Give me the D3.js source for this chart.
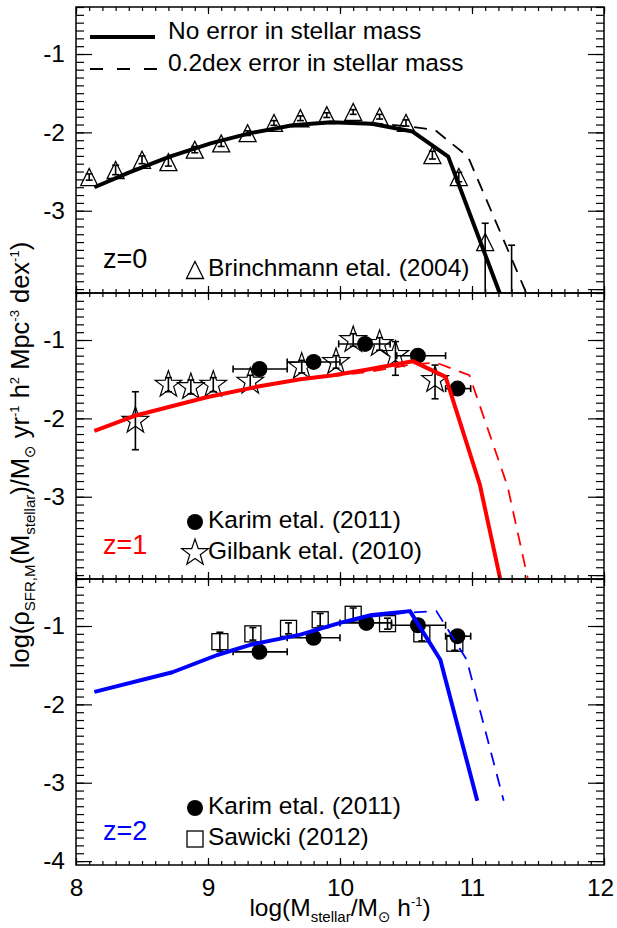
<!DOCTYPE html>
<html>
<head>
<meta charset="utf-8">
<script src="https://cdn.jsdelivr.net/npm/d3@7"></script>
<style>
  body { margin: 0; background: #fff; }
  svg { display: block; font-family: "Liberation Sans", Arial, sans-serif; }
</style>
</head>
<body>
<svg id="chart" width="617" height="928"></svg>
<script>
// Axis ticks
var xTicks = [8, 9, 10, 11, 12];
var yTicksUpper = [-1, -2, -3];
var yTicksLower = [-1, -2, -3, -4];

// z=0 model, no error / 0.2dex error in stellar mass
var m0X = [8.14, 8.39, 8.71, 9.02, 9.32, 9.64, 9.93, 10.24, 10.55, 10.82, 11.40];
var m0Y = [-2.70, -2.52, -2.31, -2.14, -2.01, -1.91, -1.87, -1.89, -1.99, -2.31, -4.90];
var d0X = [8.14, 8.39, 8.71, 9.02, 9.32, 9.64, 9.93, 10.24, 10.55, 10.72, 10.97, 11.50];
var d0Y = [-2.70, -2.52, -2.31, -2.14, -2.01, -1.91, -1.87, -1.88, -1.93, -1.97, -2.31, -4.40];

// Brinchmann etal. (2004)
var brX = [8.1, 8.3, 8.5, 8.7, 8.9, 9.1, 9.3, 9.5, 9.7, 9.9, 10.1, 10.3, 10.5, 10.7, 10.9, 11.1, 11.3];
var brY = [-2.57, -2.48, -2.35, -2.38, -2.22, -2.14, -2.01, -1.88, -1.82, -1.78, -1.74, -1.80, -1.88, -2.29, -2.57, -3.40, -4.25];
var brHi = [0.04, 0.06, 0.05, 0.05, 0.04, 0.04, 0.03, 0.03, 0.03, 0.03, 0.03, 0.03, 0.04, 0.05, 0.06, 0.24, 0.81];
var brLo = [0.04, 0.06, 0.05, 0.05, 0.04, 0.04, 0.03, 0.03, 0.03, 0.03, 0.03, 0.03, 0.04, 0.05, 0.06, 0.70, 0.90];

// z=1 model
var m1X = [8.14, 8.46, 8.99, 9.39, 9.70, 9.95, 10.20, 10.55, 10.80, 11.06, 11.30];
var m1Y = [-2.16, -1.96, -1.73, -1.59, -1.50, -1.45, -1.38, -1.27, -1.47, -2.85, -4.72];
var d1X = [8.14, 8.46, 8.99, 9.39, 9.70, 9.95, 10.20, 10.55, 10.73, 10.98, 11.27, 11.50];
var d1Y = [-2.16, -1.96, -1.73, -1.59, -1.50, -1.46, -1.41, -1.31, -1.29, -1.45, -2.87, -4.64];

// Karim etal. (2011), z=1
var k1X = [9.39, 9.80, 10.19, 10.59, 10.89];
var k1Y = [-1.37, -1.28, -1.05, -1.20, -1.62];
var k1Min = [9.19, 9.60, 9.99, 10.43, 10.80];
var k1Max = [9.60, 10.00, 10.38, 10.80, 10.99];

// Gilbank etal. (2010)
var gbX = [8.45, 8.70, 8.87, 9.04, 9.32, 9.71, 9.97, 10.10, 10.30, 10.42, 10.72];
var gbY = [-2.03, -1.57, -1.60, -1.57, -1.53, -1.34, -1.28, -1.00, -1.05, -1.19, -1.51];
var gbHi = [0.37, 0.09, 0.09, 0.09, 0.08, 0.08, 0.08, 0.08, 0.08, 0.17, 0.19];
var gbLo = [0.37, 0.09, 0.09, 0.09, 0.08, 0.08, 0.08, 0.08, 0.08, 0.26, 0.24];

// z=2 model
var m2X = [8.14, 8.73, 9.07, 9.32, 9.70, 10.00, 10.24, 10.53, 10.76, 11.04];
var m2Y = [-1.84, -1.59, -1.37, -1.24, -1.11, -0.96, -0.86, -0.81, -1.43, -3.23];
var d2X = [8.14, 8.73, 9.07, 9.32, 9.70, 10.00, 10.24, 10.50, 10.73, 10.96, 11.24];
var d2Y = [-1.84, -1.59, -1.37, -1.24, -1.11, -0.97, -0.88, -0.83, -0.81, -1.43, -3.23];

// Karim etal. (2011), z=2
var k2X = [9.39, 9.80, 10.20, 10.59, 10.89];
var k2Y = [-1.33, -1.15, -0.96, -0.99, -1.13];
var k2Min = [9.19, 9.60, 10.00, 10.39, 10.80];
var k2Max = [9.60, 10.00, 10.39, 10.80, 10.99];

// Sawicki (2012)
var swX = [9.09, 9.34, 9.61, 9.85, 10.10, 10.36, 10.62, 10.87];
var swY = [-1.20, -1.10, -1.03, -0.92, -0.85, -0.97, -1.10, -1.22];
var swErr = [0.12, 0.08, 0.07, 0.08, 0.08, 0.07, 0.09, 0.09];

var svg = d3.select('#chart');
var left = 76, right = 604, panelH = 286;
var tops = [7, 293, 579];
var font = 24.5;

var x = d3.scaleLinear().domain([8, 12]).range([left, right]);
var plain = function(d) { return String(d); };

// minor tick values
var xMinor = d3.range(80, 121).map(function(v){ return v / 10; });
var yMinor = d3.range(-40, -3).map(function(v){ return v / 10; });

function starPath(cx, cy, R, r) {
  var pts = [];
  for (var i = 0; i < 10; i++) {
    var a = -Math.PI / 2 + i * Math.PI / 5;
    var rr = i % 2 === 0 ? R : r;
    pts.push([cx + rr * Math.cos(a), cy + rr * Math.sin(a)]);
  }
  return 'M' + pts.join('L') + 'Z';
}

function triPath(cx, cy, s) {
  return 'M' + (cx - s) + ',' + (cy + s) + 'L' + cx + ',' + (cy - s) + 'L' + (cx + s) + ',' + (cy + s) + 'Z';
}

function drawSymbol(g, type, cx, cy) {
  if (type === 'tri') {
    g.append('path').attr('d', triPath(cx, cy, 8.5))
      .attr('fill', 'none').attr('stroke', '#000').attr('stroke-width', 1.3);
  } else if (type === 'star') {
    g.append('path').attr('d', starPath(cx, cy, 14, 5.5))
      .attr('fill', 'none').attr('stroke', '#000').attr('stroke-width', 1.2);
  } else if (type === 'circle') {
    g.append('circle').attr('cx', cx).attr('cy', cy).attr('r', 8).attr('fill', '#000');
  } else if (type === 'square') {
    g.append('rect').attr('x', cx - 8).attr('y', cy - 8).attr('width', 16).attr('height', 16)
      .attr('fill', 'none').attr('stroke', '#000').attr('stroke-width', 1.3);
  }
}

function vErr(g, y, xs, ys, lo, hi) {
  xs.forEach(function(v, i) {
    var cx = x(v), y0 = y(ys[i] - lo[i]), y1 = y(ys[i] + hi[i]);
    g.append('line').attr('x1', cx).attr('x2', cx).attr('y1', y0).attr('y2', y1);
    g.append('line').attr('x1', cx - 3.5).attr('x2', cx + 3.5).attr('y1', y0).attr('y2', y0);
    g.append('line').attr('x1', cx - 3.5).attr('x2', cx + 3.5).attr('y1', y1).attr('y2', y1);
  });
}

function hErr(g, y, xs, ys, mn, mx) {
  xs.forEach(function(v, i) {
    var cy = y(ys[i]), x0 = x(mn[i]), x1 = x(mx[i]);
    g.append('line').attr('x1', x0).attr('x2', x1).attr('y1', cy).attr('y2', cy);
    g.append('line').attr('x1', x0).attr('x2', x0).attr('y1', cy - 3.5).attr('y2', cy + 3.5);
    g.append('line').attr('x1', x1).attr('x2', x1).attr('y1', cy - 3.5).attr('y2', cy + 3.5);
  });
}

var panels = [
  { label: 'z=0', color: '#000', solid: [m0X, m0Y], dashed: [d0X, d0Y], yTicks: yTicksUpper,
    sets: [{ type: 'tri', x: brX, y: brY, lo: brLo, hi: brHi }],
    legend: [{ type: 'tri', text: 'Brinchmann etal. (2004)' }] },
  { label: 'z=1', color: '#ff0000', solid: [m1X, m1Y], dashed: [d1X, d1Y], yTicks: yTicksUpper,
    sets: [{ type: 'star', x: gbX, y: gbY, lo: gbLo, hi: gbHi },
           { type: 'circle', x: k1X, y: k1Y, min: k1Min, max: k1Max }],
    legend: [{ type: 'circle', text: 'Karim etal. (2011)' }, { type: 'star', text: 'Gilbank etal. (2010)' }] },
  { label: 'z=2', color: '#0000ff', solid: [m2X, m2Y], dashed: [d2X, d2Y], yTicks: yTicksLower,
    sets: [{ type: 'square', x: swX, y: swY, lo: swErr, hi: swErr },
           { type: 'circle', x: k2X, y: k2Y, min: k2Min, max: k2Max }],
    legend: [{ type: 'circle', text: 'Karim etal. (2011)' }, { type: 'square', text: 'Sawicki (2012)' }] }
];

panels.forEach(function(p, pi) {
  var top = tops[pi], bottom = top + panelH;
  var y = d3.scaleLinear().domain([-4.05, -0.4]).range([bottom, top]);
  var g = svg.append('g');

  g.append('clipPath').attr('id', 'clip' + pi)
    .append('rect').attr('x', left).attr('y', top).attr('width', right - left).attr('height', panelH);
  var plot = g.append('g').attr('clip-path', 'url(#clip' + pi + ')');

  // data points with error bars
  p.sets.forEach(function(s) {
    var eg = plot.append('g').attr('stroke', '#000').attr('stroke-width', 1.6);
    if (s.lo) vErr(eg, y, s.x, s.y, s.lo, s.hi);
    if (s.min) hErr(eg, y, s.x, s.y, s.min, s.max);
    s.x.forEach(function(v, i) { drawSymbol(plot, s.type, x(v), y(s.y[i])); });
  });

  // model curves
  var line = d3.line().x(function(d){ return x(d[0]); }).y(function(d){ return y(d[1]); });
  plot.append('path').datum(d3.zip(p.dashed[0], p.dashed[1])).attr('d', line)
    .attr('fill', 'none').attr('stroke', p.color).attr('stroke-width', 1.8).attr('stroke-dasharray', '13,9');
  plot.append('path').datum(d3.zip(p.solid[0], p.solid[1])).attr('d', line)
    .attr('fill', 'none').attr('stroke', p.color).attr('stroke-width', 4).attr('stroke-linejoin', 'round');

  // axes: major + minor ticks, all pointing inward
  function axisGroup(axis, tx, ty) {
    var a = g.append('g').attr('transform', 'translate(' + tx + ',' + ty + ')').call(axis);
    a.select('.domain').remove();
    a.selectAll('line').attr('stroke', '#000').attr('stroke-width', 1.2);
    a.selectAll('text').attr('font-size', 24.5).attr('font-family', '"Liberation Sans", Arial, sans-serif').attr('fill', '#000');
    return a;
  }
  axisGroup(d3.axisLeft(y).tickValues(p.yTicks).tickSize(-16).tickPadding(11).tickFormat(plain), left, 0);
  axisGroup(d3.axisLeft(y).tickValues(yMinor).tickSize(-8).tickFormat(''), left, 0);
  axisGroup(d3.axisRight(y).tickValues(yTicksLower).tickSize(-16).tickFormat(''), right, 0);
  axisGroup(d3.axisRight(y).tickValues(yMinor).tickSize(-8).tickFormat(''), right, 0);
  axisGroup(d3.axisTop(x).tickValues(xTicks).tickSize(-7).tickFormat(''), 0, top);
  axisGroup(d3.axisTop(x).tickValues(xMinor).tickSize(-4).tickFormat(''), 0, top);
  var bx = d3.axisBottom(x).tickValues(xTicks).tickSize(-7).tickPadding(14).tickFormat(pi < 2 ? '' : plain);
  var bxg = axisGroup(bx, 0, bottom);
  // keep the last label inside the window
  bxg.selectAll('text').filter(function(d){ return d === 12; }).attr('dx', -4);
  axisGroup(d3.axisBottom(x).tickValues(xMinor).tickSize(-4).tickFormat(''), 0, bottom);

  g.append('rect').attr('x', left).attr('y', top).attr('width', right - left).attr('height', panelH)
    .attr('fill', 'none').attr('stroke', '#000').attr('stroke-width', 1.5);

  // redshift label
  g.append('text').attr('x', 103).attr('y', top + 261).attr('font-size', 27)
    .attr('fill', p.color).text(p.label);

  // data legend
  var ly = p.legend.length === 1 ? [263] : [229, 260];
  p.legend.forEach(function(l, i) {
    drawSymbol(g, l.type, 195, top + ly[i]);
    g.append('text').attr('x', 208).attr('y', top + ly[i] + 6).attr('font-size', font).text(l.text);
  });
});

// model legend in the top panel
var lg = svg.append('g');
lg.append('line').attr('x1', 90).attr('x2', 155).attr('y1', 37).attr('y2', 37)
  .attr('stroke', '#000').attr('stroke-width', 4);
lg.append('line').attr('x1', 90).attr('x2', 157).attr('y1', 69).attr('y2', 69)
  .attr('stroke', '#000').attr('stroke-width', 1.8).attr('stroke-dasharray', '13,14');
lg.append('text').attr('x', 168).attr('y', 39).attr('font-size', font).text('No error in stellar mass');
lg.append('text').attr('x', 168).attr('y', 71).attr('font-size', font).text('0.2dex error in stellar mass');

// axis titles
function richText(t, parts) {
  parts.forEach(function(p) {
    var ts = t.append('tspan').text(p[0]);
    if (p[1] === 'sub') ts.attr('font-size', 15).attr('dy', 6);
    else if (p[1] === 'sup') ts.attr('font-size', 13).attr('dy', -10);
    if (p[2]) ts.attr('font-family', '"DejaVu Sans", sans-serif');
    ts.attr('data-kind', p[1] || 'n');
  });
  // restore baseline after sub/sup spans
  var prev = 'n';
  t.selectAll('tspan').each(function() {
    var k = this.getAttribute('data-kind');
    if (k === 'n' && prev === 'sub') d3.select(this).attr('dy', -6);
    if (k === 'n' && prev === 'sup') d3.select(this).attr('dy', 10);
    if (k === 'sub' && prev === 'sub') d3.select(this).attr('dy', 0);
    prev = k;
  });
}

var xt = svg.append('text').attr('x', 340).attr('y', 916).attr('text-anchor', 'middle').attr('font-size', font);
richText(xt, [['log(M'], ['stellar', 'sub'], ['/M'], ['\u2299', 'sub', true], [' h'], ['-1', 'sup'], [')']]);

var yt = svg.append('text').attr('transform', 'translate(29,455) rotate(-90)')
  .attr('text-anchor', 'middle').attr('font-size', 25.5);
richText(yt, [['log(\u03c1'], ['SFR,M', 'sub'], ['(M'], ['stellar', 'sub'], [')/M'], ['\u2299', 'sub', true],
  [' yr'], ['-1', 'sup'], [' h'], ['2', 'sup'], [' Mpc'], ['-3', 'sup'], [' dex'], ['-1', 'sup'], [')']]);
</script>
</body>
</html>
